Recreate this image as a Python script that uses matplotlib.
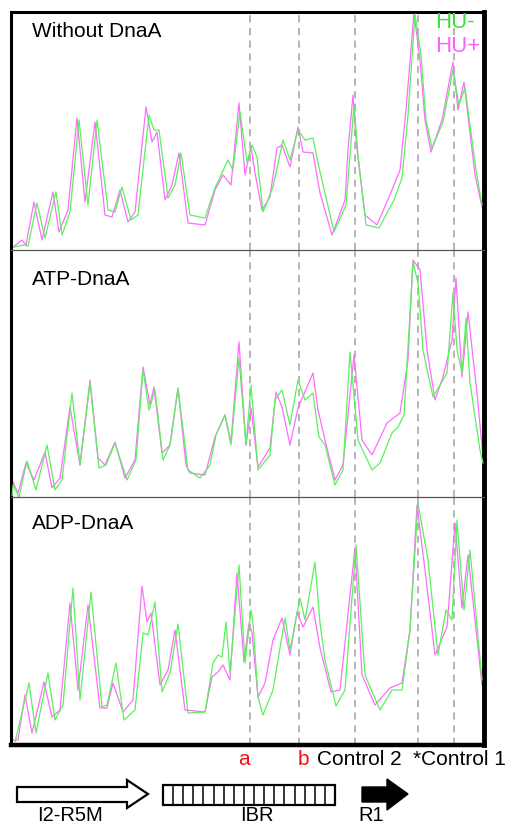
import matplotlib
matplotlib.use("Agg")
import matplotlib.pyplot as plt
from matplotlib.patches import Polygon, Rectangle

plt.rcParams['font.family'] = ['Liberation Sans', 'DejaVu Sans']

# densitometry scans: migration position vs band intensity (arbitrary units)
# panel 1: without DnaA
p1_hum_pos = [4, 14, 18, 27, 35, 46, 52, 60, 69, 78, 87, 98, 105, 112, 121, 128, 139, 144, 149, 158,
              165, 171, 180, 195, 205, 218, 223, 230, 237, 242, 247, 253, 263, 273, 280, 288, 295, 303, 308, 324,
              336, 340, 344, 348, 356, 369, 384, 392, 398, 405, 411, 416, 422, 433, 443, 449, 455, 466, 472]
p1_hum_val = [3, 5, 4, 47, 12, 58, 15, 38, 130, 45, 130, 40, 38, 63, 30, 35, 135, 120, 120, 52,
              65, 97, 35, 32, 62, 90, 80, 138, 88, 105, 93, 38, 63, 110, 90, 120, 110, 112, 87, 18,
              45, 95, 145, 95, 25, 22, 50, 72, 135, 236, 195, 130, 102, 128, 180, 145, 162, 80, 45]
p1_hup_pos = [2, 12, 16, 24, 32, 43, 49, 58, 67, 75, 85, 95, 102, 110, 118, 125, 136, 142, 147, 155,
              162, 169, 178, 195, 205, 213, 221, 229, 235, 241, 245, 252, 260, 267, 272, 280, 288, 293, 303, 310,
              322, 335, 338, 343, 347, 355, 367, 382, 390, 396, 404, 410, 415, 421, 432, 443, 448, 454, 465, 472]
p1_hup_val = [2, 10, 5, 48, 10, 58, 18, 40, 132, 48, 128, 35, 33, 60, 28, 38, 143, 108, 118, 50,
              65, 97, 27, 25, 60, 75, 65, 147, 75, 103, 77, 40, 53, 102, 105, 83, 123, 98, 97, 57,
              15, 50, 100, 155, 100, 35, 25, 60, 80, 140, 237, 190, 130, 98, 130, 188, 140, 168, 75, 43]

# panel 2: ATP-DnaA
p2_hum_pos = [2, 3, 9, 17, 26, 37, 45, 52, 62, 70, 80, 89, 96, 105, 117, 126, 133, 139, 145, 153,
              160, 168, 178, 190, 200, 206, 215, 221, 229, 236, 241, 248, 260, 265, 272, 280, 288, 295, 303, 309,
              315, 325, 333, 340, 348, 362, 370, 382, 388, 394, 403, 408, 413, 423, 437, 443, 447, 452, 456, 460,
              470, 473]
p2_hum_val = [0, 12, 0, 36, 7, 52, 7, 17, 104, 32, 114, 29, 32, 54, 17, 37, 127, 87, 107, 37,
              52, 109, 27, 19, 32, 62, 82, 52, 139, 52, 112, 27, 42, 97, 107, 72, 117, 97, 104, 60,
              52, 12, 27, 145, 57, 27, 34, 64, 70, 82, 235, 214, 147, 100, 124, 204, 147, 124, 179, 114,
              47, 34]
p2_hup_pos = [2, 3, 8, 16, 24, 35, 42, 50, 60, 70, 80, 88, 95, 105, 115, 125, 133, 140, 144, 152,
              160, 168, 176, 180, 195, 205, 215, 221, 229, 236, 241, 248, 260, 266, 272, 280, 288, 303, 308, 315,
              325, 333, 344, 352, 362, 377, 390, 398, 403, 410, 417, 425, 433, 442, 446, 452, 458, 467, 473]
p2_hup_val = [0, 15, 4, 34, 17, 45, 9, 19, 90, 32, 117, 39, 32, 55, 19, 37, 130, 92, 110, 44,
              52, 109, 32, 24, 22, 60, 82, 55, 155, 52, 89, 30, 49, 105, 90, 52, 89, 124, 87, 57,
              17, 32, 142, 57, 42, 74, 84, 137, 237, 227, 147, 97, 120, 157, 219, 120, 185, 104, 40]

# panel 3: ADP-DnaA
p3_hum_pos = [5, 19, 26, 38, 45, 53, 63, 70, 81, 92, 97, 106, 114, 125, 133, 138, 145, 152, 160, 168,
              178, 195, 203, 208, 212, 216, 220, 229, 235, 241, 243, 248, 253, 263, 275, 280, 290, 295, 305, 310,
              315, 326, 335, 346, 355, 370, 382, 392, 400, 408, 418, 428, 436, 442, 447, 454, 460, 472]
p3_hum_val = [3, 62, 12, 72, 25, 40, 157, 45, 153, 38, 40, 82, 25, 35, 112, 110, 143, 53, 72, 121,
              32, 33, 82, 90, 88, 123, 72, 180, 82, 135, 122, 48, 30, 55, 127, 95, 147, 125, 183, 122,
              85, 39, 55, 200, 70, 35, 55, 55, 115, 242, 185, 90, 135, 125, 225, 135, 195, 65]
p3_hup_pos = [2, 8, 15, 22, 34, 42, 50, 60, 68, 78, 90, 97, 103, 113, 123, 132, 137, 141, 150, 158,
              165, 175, 195, 202, 208, 213, 220, 227, 234, 239, 242, 248, 255, 263, 272, 280, 287, 293, 303, 310,
              321, 330, 345, 352, 365, 380, 392, 400, 407, 415, 425, 437, 445, 452, 458, 472]
p3_hup_val = [5, 5, 50, 12, 63, 28, 35, 142, 55, 140, 37, 37, 62, 33, 45, 159, 123, 132, 60, 75,
              115, 35, 33, 68, 73, 80, 65, 172, 83, 122, 112, 48, 62, 105, 127, 90, 133, 118, 138, 97,
              53, 55, 197, 70, 40, 57, 62, 115, 240, 175, 90, 118, 222, 137, 190, 60]

panel_titles = ["Without DnaA", "ATP-DnaA", "ADP-DnaA"]
site_pos = [240, 289, 345, 408, 444]   # a, b, Control 2, *Control 1 ...

GREEN = '#5cf05c'
MAGENTA = '#ff6cff'

W, H = 520, 827
fig = plt.figure(figsize=(W / 100, H / 100), dpi=100)


def fx(px):
    return px / W


def fy(py):
    return 1 - py / H


# panel geometry in pixels: (top, bottom), title baseline
panels = [(12, 250), (250, 497), (497, 745)]
title_base = [37, 285, 529]
data = [(p1_hum_pos, p1_hum_val, p1_hup_pos, p1_hup_val),
        (p2_hum_pos, p2_hum_val, p2_hup_pos, p2_hup_val),
        (p3_hum_pos, p3_hum_val, p3_hup_pos, p3_hup_val)]
left_px, right_px = 11, 484

for i, ((top, bot), (gx, gy, mx, my)) in enumerate(zip(panels, data)):
    ax = fig.add_axes([fx(left_px), fy(bot), (right_px - left_px) / W, (bot - top) / H])
    ax.set_xlim(1, 474)
    ax.set_ylim(0, bot - top)
    ax.set_xticks([])
    ax.set_yticks([])
    for x in site_pos:
        ax.axvline(x, color='#b0b0b0', lw=1.3, dashes=(4, 3), zorder=1)
    ax.plot(gx, gy, color=GREEN, lw=0.9, zorder=3, solid_joinstyle='round')
    ax.plot(mx, my, color=MAGENTA, lw=0.9, zorder=2, solid_joinstyle='round')
    ax.spines['left'].set_linewidth(2.2)
    ax.spines['right'].set_linewidth(3.5)
    ax.spines['top'].set_linewidth(2.2 if i == 0 else 0.9)
    ax.spines['top'].set_color('black' if i == 0 else '#555555')
    if i < 2:
        ax.spines['bottom'].set_visible(False)
    else:
        ax.spines['bottom'].set_linewidth(3.2)
    fig.text(fx(32), fy(title_base[i]), panel_titles[i], fontsize=15, va='baseline', ha='left')

# legend text
fig.text(fx(435), fy(28), "HU-", color='#3ddc3d', fontsize=16, va='baseline')
fig.text(fx(435), fy(52), "HU+", color='#ff5cff', fontsize=16, va='baseline')

# site labels under the scans
fig.text(fx(238), fy(765), "a", color='#ee1111', fontsize=15, va='baseline')
fig.text(fx(298), fy(765), "b", color='#ee1111', fontsize=15, va='baseline')
fig.text(fx(317), fy(765), "Control 2", color='black', fontsize=15, va='baseline')
fig.text(fx(413), fy(765), "*Control 1", color='black', fontsize=15, va='baseline')

# oriC map below
dax = fig.add_axes([0, 0, 1, 1])
dax.set_xlim(0, W)
dax.set_ylim(H, 0)
dax.axis('off')
open_arrow = [(17, 787), (127, 787), (127, 780), (148, 794), (127, 808), (127, 802), (17, 802)]
dax.add_patch(Polygon(open_arrow, closed=True, facecolor='white', edgecolor='black', lw=1.6))
dax.add_patch(Rectangle((163, 785), 172, 20, facecolor='white', edgecolor='black', lw=1.6))
n_cells = 17
for k in range(1, n_cells):
    xk = 163 + 172 * k / n_cells
    dax.plot([xk, xk], [785, 805], color='black', lw=1.1)
solid_arrow = [(362, 787), (387, 787), (387, 779), (408, 794), (387, 810), (387, 802), (362, 802)]
dax.add_patch(Polygon(solid_arrow, closed=True, facecolor='black', edgecolor='black', lw=1))
dax.text(37, 821, "I2-R5M", fontsize=14.5, va='baseline', ha='left')
dax.text(240, 821, "IBR", fontsize=14.5, va='baseline', ha='left')
dax.text(358, 821, "R1", fontsize=14.5, va='baseline', ha='left')

fig.savefig("out.png", dpi=100)
